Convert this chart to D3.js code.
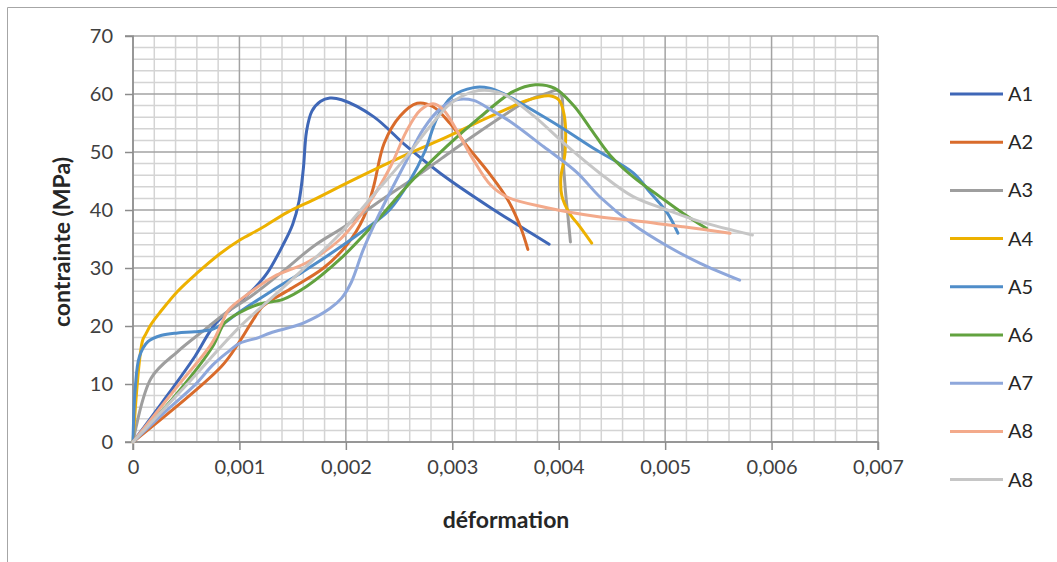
<!DOCTYPE html>
<html>
<head>
<meta charset="utf-8">
<script src="https://cdn.jsdelivr.net/npm/d3@7/dist/d3.min.js"></script>
<style>
html,body{margin:0;padding:0;background:#fff;}
svg{display:block;}
text{font-family:Lato,"Open Sans",sans-serif;}
</style>
</head>
<body>
<svg id="chart" width="1057" height="562"></svg>
<script>
// ---- data: [déformation, contrainte (MPa)] ----
const A1 = [[0,0],[0.00027,6.7],[0.00058,14.7],[0.00077,20.3],[0.00099,24.0],[0.00114,26.5],[0.00126,29.1],[0.00141,34.0],[0.0015,37.5],[0.00156,41.5],[0.0016,47],[0.00163,53.5],[0.00168,57],[0.00176,58.7],[0.00185,59.3],[0.00196,59.0],[0.00226,56.1],[0.00257,51.0],[0.00289,46.3],[0.00336,40.4],[0.00391,34.1]];
const A2 = [[0,0],[0.00083,13.0],[0.00099,17.0],[0.00112,20.8],[0.00122,23.4],[0.00148,26.4],[0.00179,30.0],[0.00201,34.0],[0.00217,38.8],[0.00226,44],[0.00236,51.5],[0.00251,56.2],[0.00267,58.4],[0.00282,57.8],[0.00298,54.9],[0.00314,51.0],[0.00336,46.0],[0.00352,41.8],[0.00364,37.1],[0.00371,33.2]];
const A3 = [[0,0],[0.00017,11.0],[0.00042,15.6],[0.00067,19.3],[0.00089,22.5],[0.0011,25.0],[0.0014,29.3],[0.0017,33.8],[0.002,37.3],[0.0023,41.3],[0.0026,45.0],[0.0029,48.9],[0.0032,52.8],[0.0035,56.5],[0.0037,58.8],[0.0039,60.2],[0.00399,60.6],[0.00403,59.5],[0.00403,52.6],[0.00406,44.0],[0.00409,38.3],[0.00411,34.5]];
const A4 = [[0,0],[0.00009,17.5],[0.00012,18.6],[0.00017,20.3],[0.00026,22.5],[0.00042,26.0],[0.0006,29.1],[0.00082,32.5],[0.001,34.8],[0.0012,36.8],[0.00145,39.6],[0.0017,41.8],[0.00207,45.2],[0.0026,49.8],[0.00295,52.6],[0.00326,55.3],[0.0035,57.3],[0.0037,58.9],[0.00391,59.7],[0.004,59.0],[0.00405,56.5],[0.00406,50],[0.00402,45.5],[0.00403,42.4],[0.0041,39.5],[0.0042,37.1],[0.00431,34.3]];
const A5 = [[0,0],[0.00002,9.0],[0.00006,14.7],[0.00014,17.3],[0.00027,18.4],[0.00042,18.8],[0.00058,19.0],[0.00074,19.4],[0.00085,20.4],[0.001,22.4],[0.0013,26.0],[0.0016,29.4],[0.0019,33.0],[0.00213,36.0],[0.00241,40.0],[0.0026,45.0],[0.00274,50.0],[0.00286,56.0],[0.003,59.6],[0.0032,61.1],[0.00335,61.0],[0.0035,59.9],[0.0037,57.8],[0.00401,54.4],[0.00433,50.6],[0.0047,46.4],[0.00486,43.0],[0.00502,39.5],[0.00512,36.0]];
const A6 = [[0,0],[0.00042,8.5],[0.00075,16.5],[0.00086,20.5],[0.00099,22.2],[0.00119,23.8],[0.00141,24.6],[0.00163,26.8],[0.00195,31.6],[0.00226,37.5],[0.00263,45.2],[0.00295,51.0],[0.00326,56.0],[0.00357,60.4],[0.00378,61.6],[0.00396,61.0],[0.00414,58.0],[0.0043,54.0],[0.00448,49.5],[0.0047,45.7],[0.00495,42.3],[0.00517,39.4],[0.00539,36.8]];
const A7 = [[0,0],[0.00035,6.0],[0.00058,9.8],[0.00075,13.3],[0.00089,15.5],[0.001,17.0],[0.00118,18.0],[0.00129,18.8],[0.0016,20.5],[0.00185,23.0],[0.00196,24.8],[0.00205,27.5],[0.00216,33.0],[0.00228,38.0],[0.0024,42.5],[0.00257,48.5],[0.00273,54.0],[0.00289,57.5],[0.00304,59.0],[0.0032,58.9],[0.00336,57.3],[0.00354,55.3],[0.00386,50.9],[0.00417,46.5],[0.00439,42.2],[0.0047,37.5],[0.00502,33.8],[0.00533,30.8],[0.0057,27.9]];
const A8 = [[0,0],[0.0004,9.2],[0.00074,17.0],[0.00083,20.3],[0.0009,22.8],[0.00105,25.1],[0.00132,28.5],[0.00163,30.9],[0.00195,35.0],[0.0022,40.7],[0.00242,47.5],[0.00257,53.6],[0.0027,57.2],[0.00282,58.3],[0.00292,57.2],[0.00304,53.8],[0.0032,48.6],[0.00336,44.3],[0.00352,42.2],[0.00389,40.4],[0.00439,38.8],[0.0047,38.2],[0.00517,37.1],[0.00561,36.0]];
const A8b = [[0,0],[0.0005,9.8],[0.001,19.8],[0.0013,24.8],[0.0016,29.8],[0.00195,36.0],[0.00226,42.6],[0.00257,49.2],[0.00279,54.4],[0.00298,58.3],[0.0032,60.4],[0.00335,60.6],[0.0035,59.8],[0.00376,56.3],[0.00408,51.0],[0.00439,46.3],[0.0047,42.3],[0.00502,40.0],[0.00533,38.0],[0.00582,35.7]];

const seriesNames = ["A1","A2","A3","A4","A5","A6","A7","A8","A8"];
const seriesData = [A1,A2,A3,A4,A5,A6,A7,A8,A8b];
const xTicks = [0,0.001,0.002,0.003,0.004,0.005,0.006,0.007];
const yTicks = [0,10,20,30,40,50,60,70];
const xTitle = "déformation";
const yTitle = "contrainte (MPa)";

// ---- styles ----
const colors = ["#3F67B7","#D96B2B","#9E9E9E","#EDB100","#4F8DC9","#62A23F","#8EA7DB","#F3AA8B","#C6C6C6"];

const svg = d3.select("#chart");
const x = d3.scaleLinear().domain([0,0.007]).range([133,878]);
const y = d3.scaleLinear().domain([0,70]).range([442,36]);

// outer chart border
svg.append("path").attr("d","M7.5,562V7.5H1057").attr("fill","none").attr("stroke","#A6A6A6").attr("stroke-width",1);

// minor grid
const xMinor = d3.range(0,35).map(i=>i*0.0002).filter((v,i)=>i%5!==0);
const yMinor = d3.range(0,35).map(i=>i*2).filter((v,i)=>i%5!==0);
const g = svg.append("g");
g.selectAll(".xm").data(xMinor).join("line")
  .attr("x1",d=>x(d)).attr("x2",d=>x(d)).attr("y1",y(70)).attr("y2",y(0))
  .attr("stroke","#D4D4D4").attr("stroke-width",1.5);
g.selectAll(".ym").data(yMinor).join("line")
  .attr("x1",x(0)).attr("x2",x(0.007)).attr("y1",d=>y(d)).attr("y2",d=>y(d))
  .attr("stroke","#D4D4D4").attr("stroke-width",1.5);
// major grid
g.selectAll(".xM").data(xTicks).join("line")
  .attr("x1",d=>x(d)).attr("x2",d=>x(d)).attr("y1",y(70)).attr("y2",y(0))
  .attr("stroke","#A3A3A3").attr("stroke-width",1.5);
g.selectAll(".yM").data(yTicks).join("line")
  .attr("x1",x(0)).attr("x2",x(0.007)).attr("y1",d=>y(d)).attr("y2",d=>y(d))
  .attr("stroke","#A3A3A3").attr("stroke-width",1.5);

// axes
const fmtX = d => d===0 ? "0" : d3.format(".3f")(d).replace(".",",");
const xAxis = d3.axisBottom(x).tickValues(xTicks).tickFormat(fmtX).tickSize(8).tickPadding(10);
const yAxis = d3.axisLeft(y).tickValues(yTicks).tickSize(8).tickPadding(12);
const gx = svg.append("g").attr("transform",`translate(0,${y(0)})`).call(xAxis);
const gy = svg.append("g").attr("transform",`translate(${x(0)},0)`).call(yAxis);
[gx,gy].forEach(a=>{
  a.select(".domain").attr("stroke","#8C8C8C").attr("stroke-width",1.5);
  a.selectAll(".tick line").attr("stroke","#8C8C8C").attr("stroke-width",1.5);
  a.selectAll(".tick text").attr("fill","#404040").style("font-size","20px").style("font-family","Lato");
});
gy.select(".domain").attr("d",`M-8,${y(70)}H0V${y(0)}H-8`);
gx.select(".domain").attr("d",`M${x(0)},8V0H${x(0.007)}V8`);

// lines
const line = d3.line().x(d=>x(d[0])).y(d=>y(d[1])).curve(d3.curveCatmullRom.alpha(0.5));
svg.append("g").selectAll("path").data(seriesData).join("path")
  .attr("d",line).attr("fill","none")
  .attr("stroke",(d,i)=>colors[i]).attr("stroke-width",3).attr("stroke-linejoin","round").attr("stroke-linecap","round");

// titles
svg.append("text").attr("x",506).attr("y",528).attr("text-anchor","middle")
  .style("font-size","23px").style("font-weight","bold").attr("fill","#262626").text(xTitle);
svg.append("text").attr("transform","translate(70,242) rotate(-90)").attr("text-anchor","middle")
  .style("font-size","23px").style("font-weight","bold").attr("fill","#262626").text(yTitle);

// legend
const leg = svg.append("g").selectAll("g").data(seriesNames).join("g")
  .attr("transform",(d,i)=>`translate(950,${94+i*48.2})`);
leg.append("line").attr("x1",0).attr("x2",53).attr("y1",0).attr("y2",0)
  .attr("stroke",(d,i)=>colors[i]).attr("stroke-width",3);
leg.append("text").attr("x",58).attr("y",7).style("font-size","20px").attr("fill","#262626").text(d=>d);
</script>
</body>
</html>
